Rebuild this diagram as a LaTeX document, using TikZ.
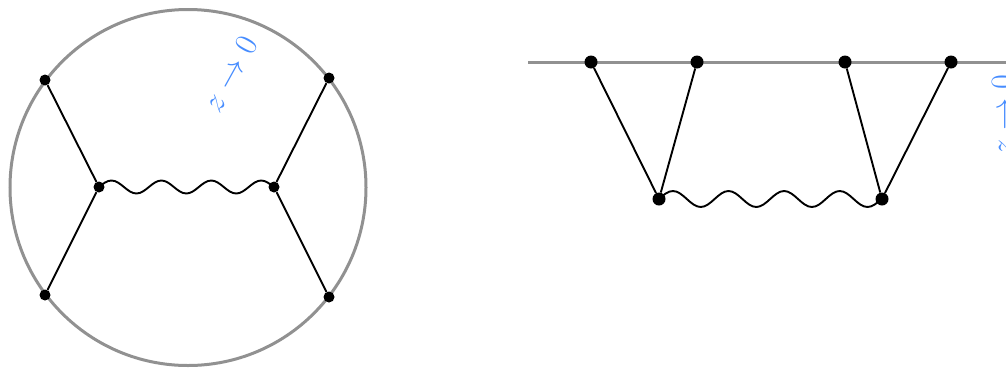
\documentclass[tikz,border=0pt]{standalone}
\usetikzlibrary{decorations}
\definecolor{rimgray}{RGB}{145,145,145}
\definecolor{lblblue}{RGB}{70,140,255}
\pgfdeclaredecoration{sinewave}{rise}{
  \state{rise}[switch if less than=+.25\pgfdecorationsegmentlength to final,
    width=+.25\pgfdecorationsegmentlength, next state=fall]{
    \pgfpathcurveto{\pgfqpoint{.0815\pgfdecorationsegmentlength}{.5123\pgfdecorationsegmentamplitude}}
      {\pgfqpoint{.1595\pgfdecorationsegmentlength}{\pgfdecorationsegmentamplitude}}
      {\pgfqpoint{.25\pgfdecorationsegmentlength}{\pgfdecorationsegmentamplitude}}}
  \state{fall}[switch if less than=+.25\pgfdecorationsegmentlength to final,
    width=+.25\pgfdecorationsegmentlength, next state=sink]{
    \pgfpathcurveto{\pgfqpoint{.0905\pgfdecorationsegmentlength}{\pgfdecorationsegmentamplitude}}
      {\pgfqpoint{.1685\pgfdecorationsegmentlength}{.5123\pgfdecorationsegmentamplitude}}
      {\pgfqpoint{.25\pgfdecorationsegmentlength}{0pt}}}
  \state{sink}[switch if less than=+.25\pgfdecorationsegmentlength to final,
    width=+.25\pgfdecorationsegmentlength, next state=back]{
    \pgfpathcurveto{\pgfqpoint{.0815\pgfdecorationsegmentlength}{-.5123\pgfdecorationsegmentamplitude}}
      {\pgfqpoint{.1595\pgfdecorationsegmentlength}{-\pgfdecorationsegmentamplitude}}
      {\pgfqpoint{.25\pgfdecorationsegmentlength}{-\pgfdecorationsegmentamplitude}}}
  \state{back}[switch if less than=+.25\pgfdecorationsegmentlength to final,
    width=+.25\pgfdecorationsegmentlength, next state=rise]{
    \pgfpathcurveto{\pgfqpoint{.0905\pgfdecorationsegmentlength}{-\pgfdecorationsegmentamplitude}}
      {\pgfqpoint{.1685\pgfdecorationsegmentlength}{-.5123\pgfdecorationsegmentamplitude}}
      {\pgfqpoint{.25\pgfdecorationsegmentlength}{0pt}}}
  \state{final}{\pgfpathlineto{\pgfpointdecoratedpathlast}}
}
\begin{document}
\begin{tikzpicture}[x=1bp,y=-1bp,
  rim/.style={draw=rimgray,line width=3bp},
  prop/.style={draw=black,line width=1.9bp},
  wavy/.style={draw=black,line width=1.9bp,decorate,
    decoration={sinewave,amplitude=#1}},
  dotL/.style={circle,fill=black,inner sep=0pt,minimum size=11bp},
  dotR/.style={circle,fill=black,inner sep=0pt,minimum size=13bp},
  lbl/.style={text=lblblue,font=\Huge,scale=1.3,inner sep=0pt}]
\useasboundingbox (0,0) rectangle (1006,369);
% ---- left: disc ----
\coordinate (c) at (188,187.5);
\draw[rim] (c) circle[radius=178];
\node[dotL] (a1) at (45,80) {};
\node[dotL] (a2) at (329,78) {};
\node[dotL] (a3) at (45,295) {};
\node[dotL] (a4) at (329,297) {};
\node[dotL] (v1) at (99,187) {};
\node[dotL] (v2) at (274,187) {};
\draw[prop] (a1) -- (v1) -- (a3);
\draw[prop] (a2) -- (v2) -- (a4);
\draw[wavy=6.5bp,decoration={segment length=49.9bp}] (v1.center) -- (v2.center);
\node[lbl,rotate=61] (l1) at (230,74) {$z\to0$};
% ---- right: half-plane ----
\coordinate (h0) at (528,62);
\coordinate (h1) at (1010,62);
\draw[rim] (h0) -- (h1);
\node[dotR] (b1) at (591,62) {};
\node[dotR] (b2) at (697,62) {};
\node[dotR] (b3) at (845,62) {};
\node[dotR] (b4) at (951,62) {};
\node[dotR] (w1) at (659,199) {};
\node[dotR] (w2) at (882,199) {};
\draw[prop] (b1) -- (w1) -- (b2);
\draw[prop] (b3) -- (w2) -- (b4);
\draw[wavy=8bp,decoration={segment length=55.6bp}] (w1.center) -- (w2.center);
\node[lbl,rotate=90] (l2) at (1002.5,115) {$z\to0$};
\end{tikzpicture}
\end{document}
